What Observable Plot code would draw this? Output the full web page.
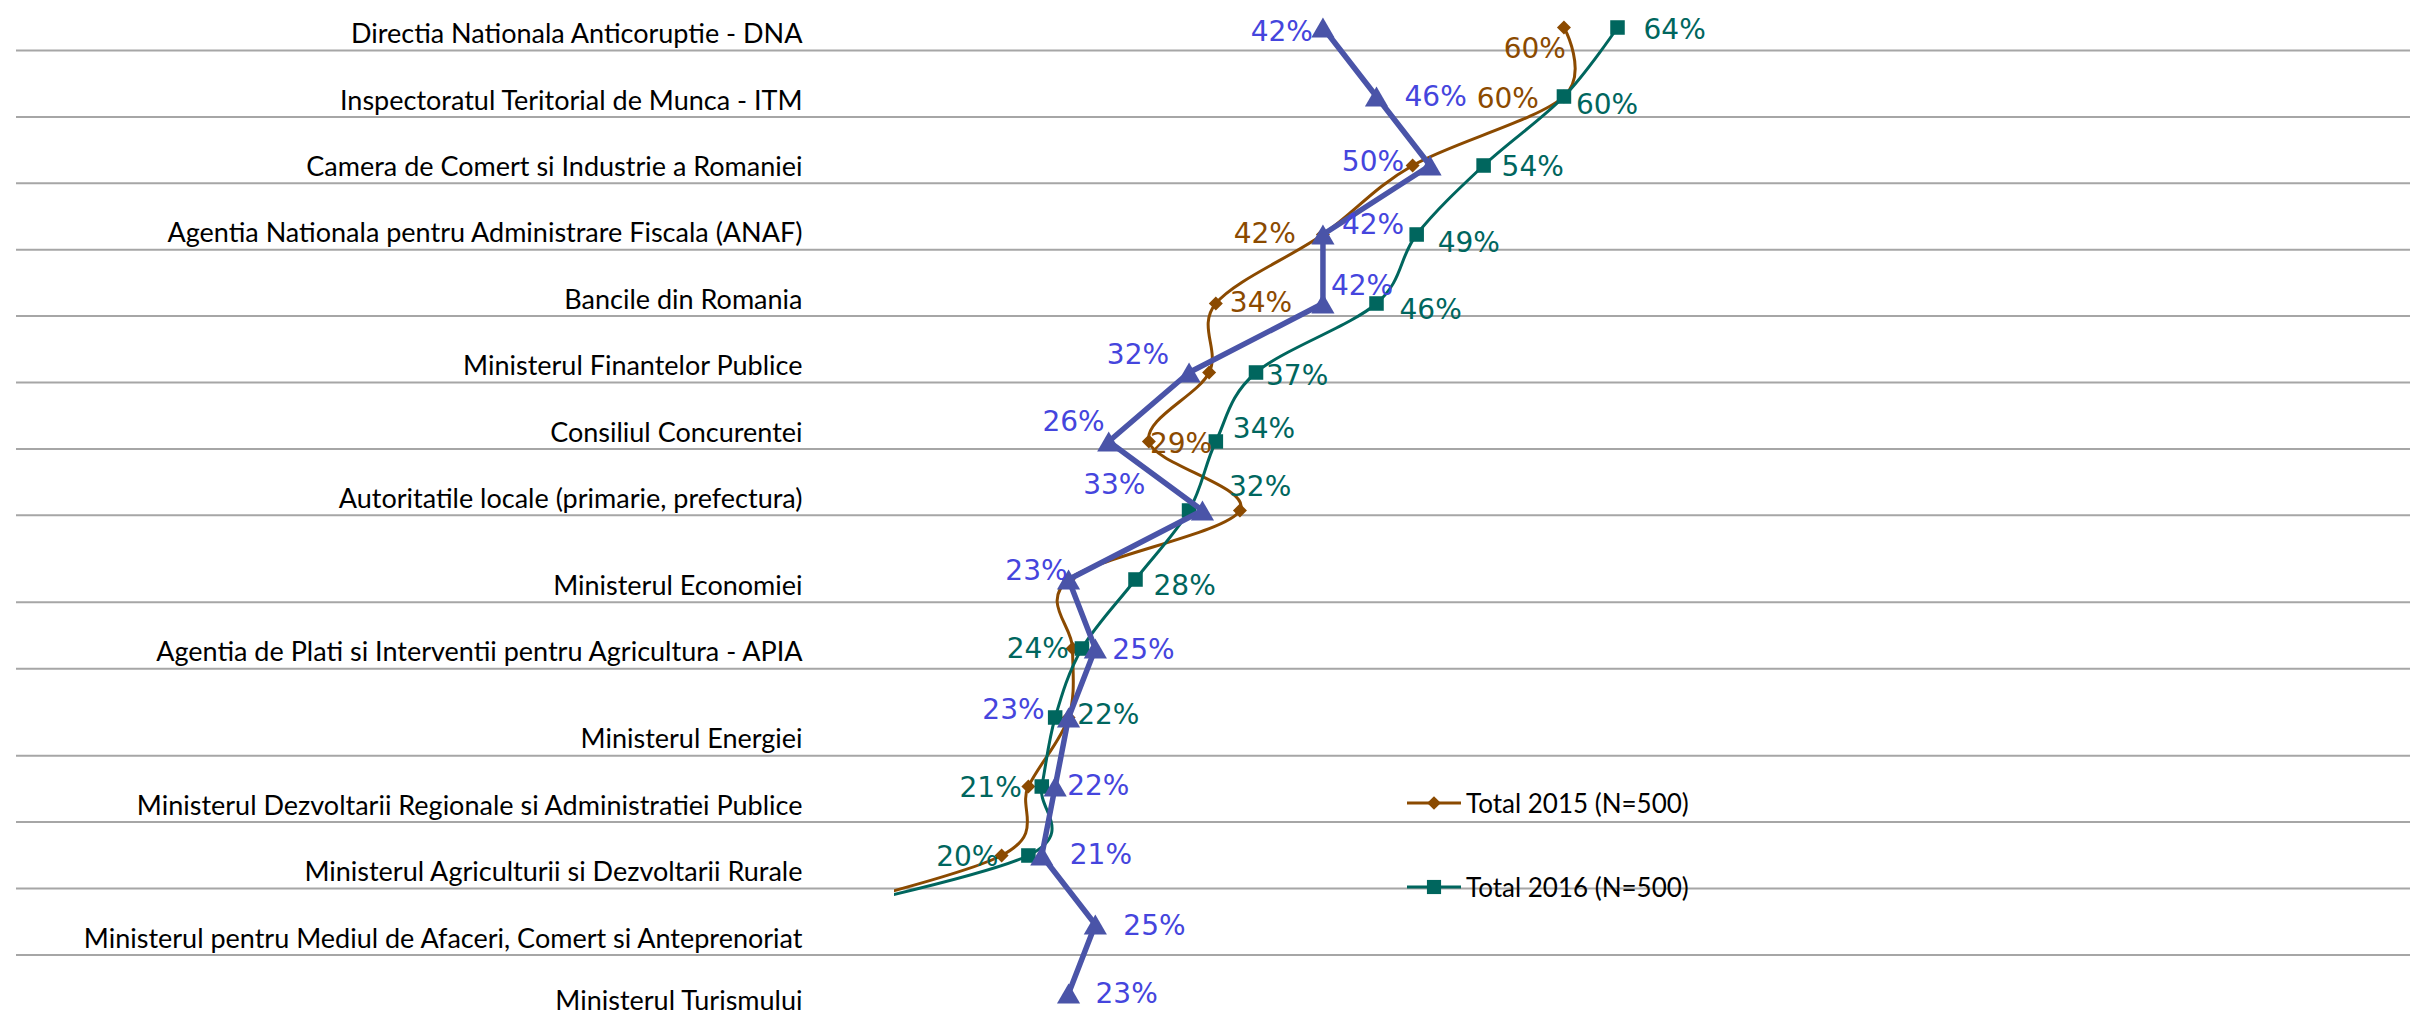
<!DOCTYPE html>
<html>
<head>
<meta charset="utf-8">
<script src="https://cdn.jsdelivr.net/npm/d3@7"></script>
<script src="https://cdn.jsdelivr.net/npm/@observablehq/plot@0.6"></script>
<style>
  html, body { margin: 0; padding: 0; background: #fff; }
  #wrap { position: relative; width: 2410px; height: 1017px; overflow: hidden; }
  #wrap > svg { position: absolute; left: 0; top: 0; }
  .leg { position: absolute; left: 1407px; display: flex; align-items: center; transform: translateY(-50%);
         font-family: Lato, sans-serif; font-size: 26px; color: #000; white-space: nowrap; }
  .leg svg { margin-right: 5px; }
</style>
</head>
<body>
<div id="wrap"></div>
<script>
// ---------- data ----------
const categories = [
  "Directia Nationala Anticoruptie - DNA",
  "Inspectoratul Teritorial de Munca - ITM",
  "Camera de Comert si Industrie a Romaniei",
  "Agentia Nationala pentru Administrare Fiscala (ANAF)",
  "Bancile din Romania",
  "Ministerul Finantelor Publice",
  "Consiliul Concurentei",
  "Autoritatile locale (primarie, prefectura)",
  "Ministerul Economiei",
  "Agentia de Plati si Interventii pentru Agricultura - APIA",
  "Ministerul Energiei",
  "Ministerul Dezvoltarii Regionale si Administratiei Publice",
  "Ministerul Agriculturii si Dezvoltarii Rurale",
  "Ministerul pentru Mediul de Afaceri, Comert si Anteprenoriat",
  "Ministerul Turismului"
];
const seriesNames = ["Total 2015 (N=500)", "Total 2016 (N=500)", "Serie 3"];
const values2015 = [60, 60, 48.7, 42, 34, 33.5, 29, 35.8, 23, 23.3, 23, 20, 18, 0, null];
const values2016 = [64, 60, 54, 49, 46, 37, 34, 32, 28, 24, 22, 21, 20, 0, null];
const values3    = [42, 46, 50, 42, 42, 32, 26, 33, 23, 25, 23, 22, 21, 25, 23];

// ---------- layout (label nudges [dx, dy, anchor], null = no label) ----------
const nudge2015 = [[2, 22, "end"], [-25, 3], null, [-27, 0], [14, 0], null, [1, 3], null, null, null, null, null, null, null, null];
const nudge2016 = [[26, 3], [12, 9], [18, 2], [21, 9], [23, 7], [10, 4], [17, -12], [40, -23], [18, 7], [-13, 1], [22, -2], [-20, 2], [-30, 2], null, null];
const nudge3    = [[-10, 5], [28, 1], [-26, -3], [19, -9], [8, -17], [-20, -17], [-4, -19], [-57, -25], [-1, -8], [17, 2], [-24, -7], [12, 0], [28, 0], [28, 2], [27, 1]];
const tallRows = new Set(["Ministerul Economiei", "Ministerul Energiei"]);

const colors = ["#8B4A00", "#00665E", "#4A54A8"];
const labelColors = ["#8B4A00", "#00665E", "#4545DD"];

// triangle marker centred on its bounding box (as spreadsheet markers are)
const boxTriangle = {
  draw(ctx, size) {
    const s = Math.sqrt(size * 4 / Math.sqrt(3)), h = s * Math.sqrt(3) / 2;
    ctx.moveTo(0, -h / 2); ctx.lineTo(s / 2, h / 2); ctx.lineTo(-s / 2, h / 2); ctx.closePath();
  }
};

// ---------- table layer (row labels + row lines) ----------
const yTable = [0.247, 15.563];
let acc = 0;
const rows = categories.map(c => {
  acc += tallRows.has(c) ? 1.31 : 1;
  return {label: c, bottom: acc, labelAt: Math.min(acc, yTable[1])};
});

const table = Plot.plot({
  width: 2410, height: 1017,
  marginTop: 0, marginBottom: 0, marginRight: 0, marginLeft: 16,
  x: {domain: [0, 1], axis: null},
  y: {domain: yTable, range: [0, 1017], axis: null},
  marks: [
    Plot.ruleY(rows, {y: "bottom", stroke: "#a6a6a6", strokeWidth: 2}),
    Plot.text(rows, {y: "labelAt", text: "label", frameAnchor: "left", dx: 786, dy: -16,
      textAnchor: "end", lineAnchor: "middle", fontSize: 27, fontFamily: "Lato", fill: "#000"})
  ]
});

// ---------- chart layer ----------
const seriesValues = [values2015, values2016, values3];
const series = seriesValues.map((vals, s) => categories.map((c, i) => ({
  series: seriesNames[s], cat: c, value: vals[i]
})));

const fmt = v => Math.round(v) + "%";
function labelMarks(s, nudges) {
  return series[s].map((d, i) => {
    const n = nudges[i];
    if (!n || d.value == null || d.value === 0) return null;
    return Plot.text([d], {
      x: "value", y: "cat", text: d => fmt(d.value),
      dx: n[0], dy: n[1], textAnchor: n[2] || (n[0] < 0 ? "end" : "start"),
      fontSize: 28, fontFamily: "DejaVu Sans", fill: labelColors[s]
    });
  }).filter(Boolean);
}
const visible = arr => arr.filter(d => d.value != null && d.value !== 0);

const chart = Plot.plot({
  width: 2410, height: 1017,
  marginTop: 0, marginBottom: 0, marginLeft: 894, marginRight: 311,
  x: {domain: [10, 100], axis: null},
  y: {type: "point", domain: categories, range: [21, 999], padding: 0, axis: null},
  marks: [
    Plot.line(series[0], {x: "value", y: "cat", stroke: colors[0], strokeWidth: 3, curve: "cardinal", clip: true}),
    Plot.dot(visible(series[0]), {x: "value", y: "cat", symbol: "diamond2", r: 6.3, fill: colors[0], stroke: "none"}),
    Plot.line(series[1], {x: "value", y: "cat", stroke: colors[1], strokeWidth: 3, curve: "cardinal", clip: true}),
    Plot.dot(visible(series[1]), {x: "value", y: "cat", symbol: "square", r: 8.2, fill: colors[1], stroke: "none"}),
    Plot.line(series[2], {x: "value", y: "cat", stroke: colors[2], strokeWidth: 5.5, curve: "linear"}),
    Plot.dot(visible(series[2]), {x: "value", y: "cat", symbol: boxTriangle, r: 8.6, fill: colors[2], stroke: "none"}),
    ...labelMarks(0, nudge2015),
    ...labelMarks(1, nudge2016),
    ...labelMarks(2, nudge3)
  ]
});

const wrap = document.getElementById("wrap");
wrap.appendChild(table);
wrap.appendChild(chart);

// ---------- legend (line + marker swatches) ----------
const legendItems = [
  {name: seriesNames[0], color: colors[0], symbol: d3.symbolDiamond2, size: 120, top: 803},
  {name: seriesNames[1], color: colors[1], symbol: d3.symbolSquare, size: 200, top: 887}
];
for (const it of legendItems) {
  const div = document.createElement("div");
  div.className = "leg";
  div.style.top = it.top + "px";
  const path = d3.symbol(it.symbol, it.size)();
  div.innerHTML = `<svg width="54" height="20" viewBox="0 0 54 20">
    <line x1="0" x2="54" y1="10" y2="10" stroke="${it.color}" stroke-width="3"/>
    <path d="${path}" transform="translate(27,10)" fill="${it.color}"/></svg><span>${it.name}</span>`;
  wrap.appendChild(div);
}
</script>
</body>
</html>
